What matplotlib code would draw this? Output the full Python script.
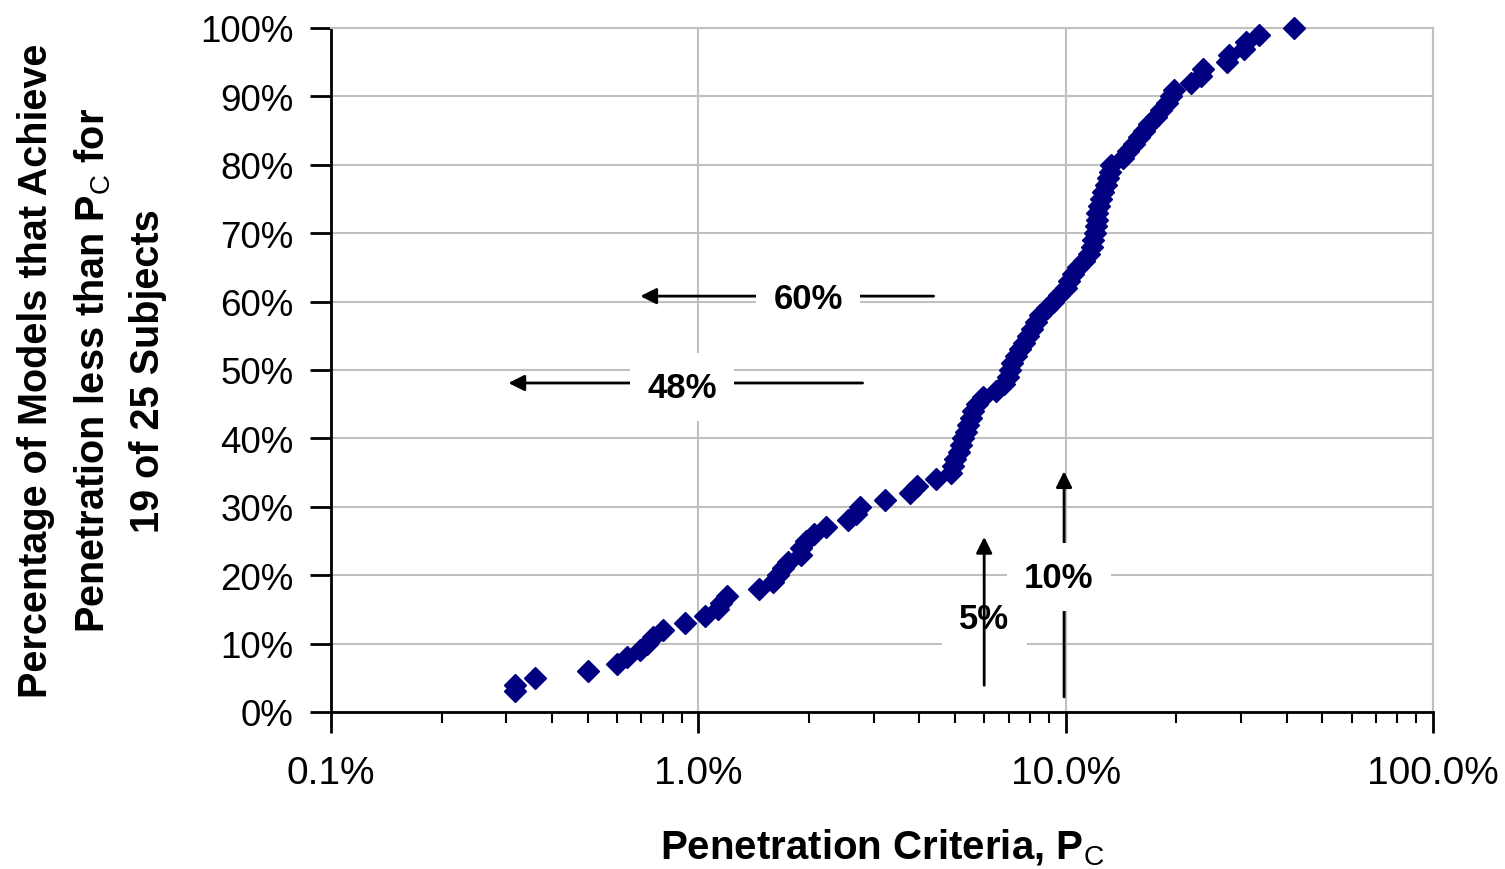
import matplotlib
matplotlib.use('Agg')
import matplotlib.pyplot as plt
from matplotlib import font_manager
from matplotlib.ticker import FixedLocator, LogLocator, NullFormatter

# penetration criteria (%) of each model
pen_pct = [0.317, 0.317, 0.36, 0.50, 0.60, 0.64, 0.695, 0.726, 0.754, 0.80,
           0.92, 1.045, 1.13, 1.15, 1.20, 1.46, 1.60, 1.65, 1.70, 1.75,
           1.90, 1.90, 1.96, 2.06, 2.22, 2.55, 2.68, 2.76, 3.23, 3.78,
           3.95, 4.43, 4.86, 4.95, 5.01, 5.11, 5.18, 5.27, 5.34, 5.41,
           5.51, 5.58, 5.75, 5.95, 6.45, 6.80, 6.95, 7.05, 7.15, 7.31,
           7.50, 7.70, 7.90, 8.10, 8.30, 8.50, 8.90, 9.25, 9.60, 10.0,
           10.2, 10.5, 10.8, 11.2, 11.6, 11.8, 11.9, 12.0, 12.1, 12.2,
           12.2, 12.3, 12.45, 12.6, 12.85, 13.0, 13.2, 13.3, 14.3, 14.8,
           15.3, 15.8, 16.3, 16.9, 17.6, 18.2, 18.9, 19.4, 19.7, 22.0,
           23.4, 23.7, 27.5, 27.8, 30.5, 31.0, 33.6, 41.8]
# cumulative percentage of models
models_pct = [3, 4, 5, 6, 7, 8, 9, 10, 11, 12,
              13, 14, 15, 16, 17, 18, 19, 20, 21, 22,
              23, 24, 25, 26, 27, 28, 29, 30, 31, 32,
              33, 34, 35, 36, 37, 38, 39, 40, 41, 42,
              43, 44, 45, 46, 47, 48, 49, 50, 51, 52,
              53, 54, 55, 56, 57, 58, 59, 60, 61, 62,
              63, 64, 65, 66, 67, 68, 69, 70, 71, 72,
              73, 74, 75, 76, 77, 78, 79, 80, 81, 82,
              83, 84, 85, 86, 87, 88, 89, 90, 91, 92,
              93, 94, 95, 96, 97, 98, 99, 100]

x_ticks = [0.1, 1.0, 10.0, 100.0]
x_tick_labels = ['0.1%', '1.0%', '10.0%', '100.0%']
y_ticks = [0, 10, 20, 30, 40, 50, 60, 70, 80, 90, 100]
y_tick_labels = ['%d%%' % v for v in y_ticks]

# horizontal arrows: (label, y, tail x, head x, text x, text y)
h_arrows = [('60%', 60.8, 4.37, 0.695, 1.99, 60.4),
            ('48%', 48.1, 2.80, 0.304, 0.904, 47.5)]
# vertical arrows: (label, x, tail y, head y, text x, text y)
v_arrows = [('5%', 6.0, 3.9, 25.6, 6.0, 13.7),
            ('10%', 9.9, 2.2, 35.2, 9.57, 19.7)]

plt.rcParams['font.family'] = ['Liberation Sans', 'DejaVu Sans']
plt.rcParams['mathtext.fontset'] = 'custom'
plt.rcParams['mathtext.rm'] = 'Liberation Sans'

names = {f.name for f in font_manager.fontManager.ttflist}
if 'Liberation Sans Narrow' in names:
    xfont, xsize = 'Liberation Sans Narrow', 33
else:
    xfont, xsize = 'Liberation Sans', 28

fig = plt.figure(figsize=(15.05, 8.7), dpi=100, facecolor='white')
ax = fig.add_axes([331/1505, 157/870, 1102/1505, 684/870])

ax.plot(pen_pct, models_pct, linestyle='none', marker='D', ms=11.5,
        color='#000080', mec='#000080', clip_on=False, zorder=3)

ax.set_xscale('log')
ax.set_xlim(0.1, 100)
ax.set_ylim(0, 100)
ax.xaxis.set_major_locator(FixedLocator(x_ticks))
ax.xaxis.set_minor_locator(LogLocator(base=10, subs=range(2, 10)))
ax.xaxis.set_minor_formatter(NullFormatter())
ax.set_xticklabels(x_tick_labels, fontfamily=xfont, fontsize=xsize)
ax.set_yticks(y_ticks)
ax.set_yticklabels(y_tick_labels, fontsize=26.5)

ax.tick_params(axis='x', which='major', direction='out', length=15, width=2, pad=16)
ax.tick_params(axis='x', which='minor', direction='out', length=8, width=1.5)
ax.tick_params(axis='y', which='major', direction='out', length=15, width=2, pad=12)

ax.grid(True, which='major', color='#c0c0c0', lw=1.5, zorder=0)
ax.set_axisbelow(True)
for s in ['left', 'bottom']:
    ax.spines[s].set_linewidth(2)
    ax.spines[s].set_color('black')
for s in ['top', 'right']:
    ax.spines[s].set_linewidth(1.5)
    ax.spines[s].set_color('#c0c0c0')

arrow_kw = dict(arrowstyle='-|>', color='black', lw=2, shrinkA=0, shrinkB=0,
                mutation_scale=24)
box = dict(boxstyle='square,pad=0.5', facecolor='white', edgecolor='none')

for label, y, x0, x1, tx, ty in h_arrows:
    ax.annotate('', xy=(x1, y), xytext=(x0, y), arrowprops=arrow_kw, zorder=4)
    ax.text(tx, ty, label, ha='center', va='center', fontsize=25,
            fontweight='bold', bbox=box, zorder=5)

# 5% label sits under its arrow, 10% label covers its arrow
lbl, x, y0, y1, tx, ty = v_arrows[0]
ax.text(tx, ty, lbl, ha='center', va='center', fontsize=25,
        fontweight='bold', bbox=box, zorder=4)
ax.annotate('', xy=(x, y1), xytext=(x, y0), arrowprops=arrow_kw, zorder=5)
lbl, x, y0, y1, tx, ty = v_arrows[1]
ax.annotate('', xy=(x, y1), xytext=(x, y0), arrowprops=arrow_kw, zorder=4)
ax.text(tx, ty, lbl, ha='center', va='center', fontsize=25,
        fontweight='bold', bbox=box, zorder=5)

fig.text(882/1505, 1 - 848/870, r'Penetration Criteria, P$_{\mathrm{C}}$',
         ha='center', va='center', fontsize=29, fontweight='bold')
fig.text(92/1505, 1 - 371/870,
         'Percentage of Models that Achieve\n'
         r'Penetration less than P$_{\mathrm{C}}$ for' '\n'
         '19 of 25 Subjects',
         ha='center', va='center', rotation=90, fontsize=28.5,
         fontweight='bold', multialignment='center', linespacing=1.55)

fig.savefig('out.png', dpi=100, facecolor='white')
